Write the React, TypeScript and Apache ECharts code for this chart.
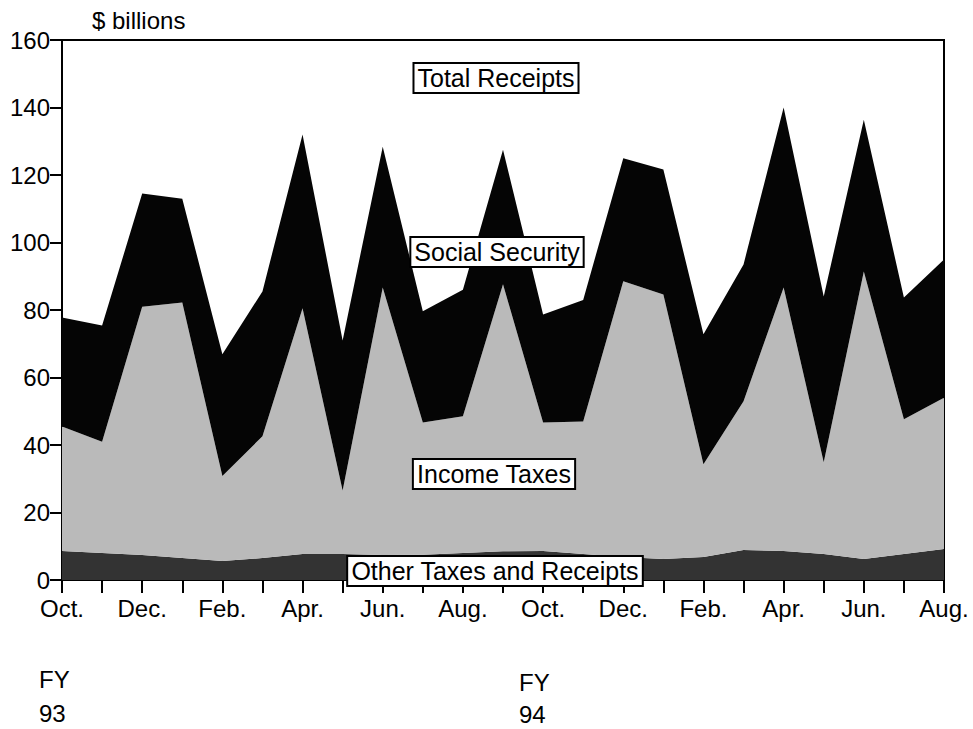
import React, { useEffect, useRef } from "react";
import * as echarts from "echarts";

const monthNames = ["Oct.", "Nov.", "Dec.", "Jan.", "Feb.", "Mar.", "Apr.", "May", "Jun.", "Jul.", "Aug.", "Sep."];
const categories = [...monthNames, ...monthNames.slice(0, 11)];

// $ billions, FY93 Oct .. FY94 Aug
const otherTaxes = [8.6, 8.0, 7.4, 6.5, 5.6, 6.5, 7.7, 7.7, 7.4, 7.5, 8.0, 8.5, 8.6, 7.7, 6.8, 6.2, 6.8, 8.9, 8.6, 7.7, 6.2, 7.7, 9.2];
const incomeTaxes = [36.9, 33.0, 73.6, 75.7, 25.2, 36.1, 72.8, 18.8, 79.3, 39.2, 40.5, 79.1, 38.1, 39.3, 81.7, 78.4, 27.5, 44.1, 78.1, 27.2, 85.2, 39.9, 44.8];
const socialSecurity = [32.3, 34.4, 33.5, 30.8, 36.1, 42.9, 51.5, 44.5, 41.7, 32.9, 37.5, 39.9, 32.0, 36.0, 36.5, 37.0, 38.5, 40.5, 53.3, 49.1, 45.0, 36.1, 41.0];

const yTicks = { min: 0, max: 160, interval: 20 };

const FONT = "'Liberation Sans', Arial, Helvetica, sans-serif";

export default function App() {
  const ref = useRef<HTMLDivElement>(null);
  useEffect(() => {
    if (!ref.current) return;
    const chart = echarts.init(ref.current, null, { renderer: "svg" });
    const boxStyle = (text: string, x: number, y: number) => ({
      type: "text",
      x,
      y,
      z: 100,
      style: {
        text,
        font: `25px ${FONT}`,
        fill: "#000",
        align: "center",
        verticalAlign: "middle",
        backgroundColor: "#fff",
        borderColor: "#000",
        borderWidth: 2,
        padding: [2, 3, 1, 3],
      },
    });
    const plain = (text: string, x: number, y: number) => ({
      type: "text",
      x,
      y,
      style: { text, font: `24px ${FONT}`, fill: "#000", align: "left", verticalAlign: "middle" },
    });
    const areaSeries = (name: string, data: number[], color: string) => ({
      name,
      type: "line",
      stack: "total",
      data,
      symbol: "none",
      lineStyle: { width: 0 },
      areaStyle: { color, opacity: 1 },
      itemStyle: { color },
    });
    chart.setOption({
      animation: false,
      backgroundColor: "#fff",
      textStyle: { fontFamily: FONT },
      grid: {
        left: 62,
        right: 29,
        top: 40,
        bottom: 149,
        show: true,
        borderColor: "#000",
        borderWidth: 2,
        backgroundColor: "transparent",
      },
      xAxis: {
        type: "category",
        boundaryGap: false,
        data: categories,
        axisLine: { show: true, lineStyle: { color: "#000", width: 2 } },
        axisTick: { show: true, interval: 0, length: 13, lineStyle: { color: "#000", width: 2 } },
        axisLabel: { interval: 1, color: "#000", fontSize: 24, margin: 16, fontFamily: FONT },
        splitLine: { show: false },
      },
      yAxis: {
        type: "value",
        min: yTicks.min,
        max: yTicks.max,
        interval: yTicks.interval,
        axisLine: { show: true, lineStyle: { color: "#000", width: 2 } },
        axisTick: { show: true, length: 12, lineStyle: { color: "#000", width: 2 } },
        axisLabel: { color: "#000", fontSize: 24, margin: 12, fontFamily: FONT },
        splitLine: { show: false },
      },
      series: [
        areaSeries("Other Taxes and Receipts", otherTaxes, "#333333"),
        areaSeries("Income Taxes", incomeTaxes, "#bababa"),
        areaSeries("Social Security", socialSecurity, "#050505"),
      ],
      graphic: [
        plain("$ billions", 92, 20),
        boxStyle("Total Receipts", 496, 78),
        boxStyle("Social Security", 497, 252),
        boxStyle("Income Taxes", 494, 474),
        boxStyle("Other Taxes and Receipts", 495, 571),
        plain("FY", 39, 679),
        plain("93", 39, 713),
        plain("FY", 519, 682),
        plain("94", 519, 714),
      ],
    });
    return () => chart.dispose();
  }, []);
  return (
    <div
      ref={ref}
      style={{ position: "fixed", left: 0, top: 0, width: 973, height: 729, background: "#fff" }}
    />
  );
}
